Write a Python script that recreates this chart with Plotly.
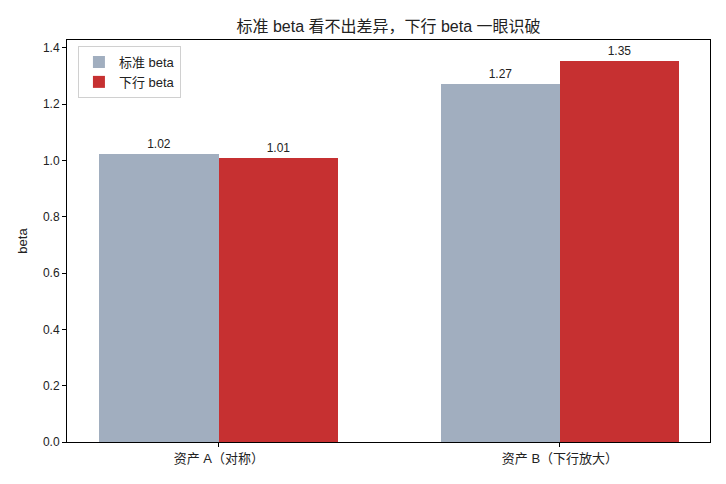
import plotly.graph_objects as go

categories = ['资产 A（对称）', '资产 B（下行放大）']
std_beta = [1.022, 1.272]
down_beta = [1.008, 1.355]
std_labels = ['1.02', '1.27']
down_labels = ['1.01', '1.35']
y_ticks = [0.0, 0.2, 0.4, 0.6, 0.8, 1.0, 1.2, 1.4]

FONT = 'Liberation Sans, Noto Sans CJK SC, sans-serif'
pos = list(range(len(categories)))
width = 0.35

fig = go.Figure()
fig.add_trace(go.Bar(
    x=pos, y=std_beta, width=width, offset=-width, name='标准 beta',
    marker=dict(color='#a1aebf', line=dict(width=0)),
    text=std_labels, textposition='outside', cliponaxis=False,
    textfont=dict(size=12, color='#222222')
))
fig.add_trace(go.Bar(
    x=pos, y=down_beta, width=width, offset=0, name='下行 beta',
    marker=dict(color='#c63031', line=dict(width=0)),
    text=down_labels, textposition='outside', cliponaxis=False,
    textfont=dict(size=12, color='#222222')
))

axis_common = dict(
    showgrid=False, zeroline=False, showline=True, linecolor='black',
    linewidth=1, mirror=True, ticks='outside', ticklen=4, tickcolor='black',
    tickfont=dict(size=12, color='#222222')
)

# page body has an 8px margin, so the figure is sized to fit the window
fig.update_layout(
    width=718, height=476,
    margin=dict(l=59, r=16, t=32, b=42),
    paper_bgcolor='white', plot_bgcolor='white',
    font=dict(family=FONT, color='#222222'),
    title=dict(text='标准 beta 看不出差异，下行 beta 一眼识破',
               x=0.5, xref='paper', xanchor='center', y=0.962, yanchor='middle',
               font=dict(size=16, color='#222222')),
    xaxis=dict(axis_common, range=[-0.445, 1.44], tickvals=pos,
               ticktext=categories, tickfont=dict(size=13, color='#222222')),
    yaxis=dict(axis_common, range=[0, 1.428], tickvals=y_ticks,
               tickformat='.1f',
               title=dict(text='beta', standoff=12, font=dict(size=13))),
    legend=dict(x=0.017, y=0.985, xanchor='left', yanchor='top',
                bgcolor='rgba(255,255,255,0.8)', bordercolor='#d0d0d0',
                borderwidth=1, font=dict(size=13), traceorder='normal'),
    bargap=0, barmode='overlay'
)

fig.write_html('out.html')
